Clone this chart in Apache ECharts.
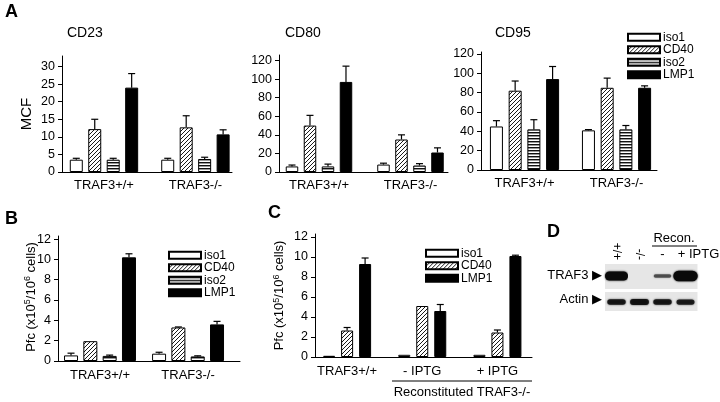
<!DOCTYPE html>
<html><head><meta charset="utf-8">
<script src="https://cdn.jsdelivr.net/npm/echarts@6/dist/echarts.min.js"></script>
<style>html,body{margin:0;padding:0;background:#fff}#c{width:720px;height:402px}</style>
</head><body><div id="c"></div>
<script>
// ---------------- data ----------------
const groupsA = ['TRAF3+/+', 'TRAF3-/-'];
const seriesA = ['iso1', 'CD40', 'iso2', 'LMP1'];
const cd23Mean = [[3.5, 3.5], [12.2, 12.7], [3.5, 3.7], [24.0, 10.7]];
const cd23Err  = [[0.4, 0.4], [2.8, 3.3], [0.4, 0.5], [4.0, 1.3]];
const cd80Mean = [[6, 8], [50, 35], [6, 7], [97, 21]];
const cd80Err  = [[1.5, 1.5], [11, 5], [2.5, 2], [17, 5]];
const cd95Mean = [[45, 41], [82, 85], [42, 42], [94, 85]];
const cd95Err  = [[6, 0.8], [10, 10], [10, 4], [13, 2]];
const ticksCD23 = [0, 5, 10, 15, 20, 25, 30];
const ticksCD80 = [0, 20, 40, 60, 80, 100, 120];
const ticksCD95 = [0, 20, 40, 60, 80, 100, 120];

const groupsB = ['TRAF3+/+', 'TRAF3-/-'];
const seriesB = ['iso1', 'CD40', 'iso2', 'LMP1'];
const bMean = [[0.55, 0.72], [1.95, 3.3], [0.5, 0.45], [10.2, 3.6]];
const bErr  = [[0.22, 0.14], [0, 0.05], [0.08, 0.06], [0.35, 0.3]];
const ticksB = [0, 2, 4, 6, 8, 10, 12];
const pfcLabel = 'Pfc (x10{s|5}/10{s|6} cells)';

const groupsC = ['TRAF3+/+', '- IPTG', '+ IPTG'];
const seriesC = ['iso1', 'CD40', 'LMP1'];
const cMean = [[0.12, 0.22, 0.22], [2.65, 5.1, 2.45], [9.3, 4.6, 10.1]];
const cErr  = [[0, 0, 0], [0.3, 0, 0.25], [0.6, 0.65, 0.08]];
const ticksC = [0, 2, 4, 6, 8, 10, 12];
const cGroupLabel = 'Reconstituted TRAF3-/-';

const blotLanes = ['+/+', '-/-', '-', '+ IPTG'];
const blotRows = ['TRAF3', 'Actin'];
const traf3Band = [1.0, 0, 0.4, 1.15];
const actinBand = [0.8, 0.85, 0.8, 0.75];

// ---------------- styles ----------------
const FONT = '"Liberation Sans", Arial, Helvetica, sans-serif';
const SUP = { s: { fontSize: 9, fontFamily: FONT, color: '#000', padding: [0, 0, 6, 0] } };
function hatchCanvas() {
  const c = document.createElement('canvas'); c.width = 4; c.height = 4;
  const g = c.getContext('2d');
  g.fillStyle = '#fff'; g.fillRect(0, 0, 4, 4);
  g.strokeStyle = '#1a1a1a'; g.lineWidth = 1;
  g.beginPath();
  g.moveTo(0, 4); g.lineTo(4, 0);
  g.moveTo(-1, 1); g.lineTo(1, -1);
  g.moveTo(3, 5); g.lineTo(5, 3);
  g.stroke();
  return c;
}
function stripeCanvas() {
  const c = document.createElement('canvas'); c.width = 4; c.height = 3;
  const g = c.getContext('2d');
  g.fillStyle = '#fff'; g.fillRect(0, 0, 4, 3);
  g.fillStyle = '#111'; g.fillRect(0, 0, 4, 1);
  g.fillStyle = '#999'; g.fillRect(0, 1, 4, 1);
  return c;
}
const FILL = {
  iso1: '#ffffff',
  CD40: { image: hatchCanvas(), repeat: 'repeat' },
  iso2: { image: stripeCanvas(), repeat: 'repeat' },
  LMP1: '#000000'
};

// panel layout
const panels = [
  { grid: { left: 62, top: 56, width: 170, height: 116 }, xMin: -0.459, xMax: 1.40, yMax: 33, ticks: ticksCD23,
    groups: groupsA, names: seriesA, mean: cd23Mean, err: cd23Err, bw: 13, gap: 0.42, labelMargin: 7, name: 'MCF', nameGap: 28 },
  { grid: { left: 279, top: 55, width: 169, height: 117 }, xMin: -0.437, xMax: 1.41, yMax: 126, ticks: ticksCD80,
    groups: groupsA, names: seriesA, mean: cd80Mean, err: cd80Err, bw: 12.5, gap: 0.44, labelMargin: 7 },
  { grid: { left: 481, top: 52, width: 176, height: 118 }, xMin: -0.473, xMax: 1.44, yMax: 122, ticks: ticksCD95,
    groups: groupsA, names: seriesA, mean: cd95Mean, err: cd95Err, bw: 13, gap: 0.44, labelMargin: 7 },
  { grid: { left: 58, top: 236, width: 182, height: 125 }, xMin: -0.477, xMax: 1.59, yMax: 12.3, ticks: ticksB,
    groups: groupsB, names: seriesB, mean: bMean, err: bErr, bw: 14, gap: 0.38, labelMargin: 8 },
  { grid: { left: 315, top: 234, width: 217, height: 123 }, xMin: -0.427, xMax: 2.46, yMax: 12.3, ticks: ticksC,
    groups: groupsC, names: seriesC, mean: cMean, err: cErr, bw: 12, gap: 0.5, labelMargin: 8,
    name: pfcLabel, nameGap: 28 }
];

const grids = [], xAxes = [], yAxes = [], series = [];
panels.forEach((p, i) => {
  grids.push(Object.assign({ outerBoundsMode: 'none', containLabel: false }, p.grid));
  xAxes.push({
    type: 'value', gridIndex: i, min: p.xMin, max: p.xMax,
    splitLine: { show: false },
    axisLine: { show: true, onZero: false, lineStyle: { color: '#000', width: 1 } },
    axisTick: { show: false },
    axisLabel: { customValues: p.groups.map((g, k) => k), formatter: v => p.groups[Math.round(v)],
      color: '#000', fontSize: 13, fontFamily: FONT, margin: p.labelMargin }
  });
  yAxes.push({
    type: 'value', gridIndex: i, min: 0, max: p.yMax,
    splitLine: { show: false },
    axisLine: { show: true, onZero: false, lineStyle: { color: '#000', width: 1 } },
    axisTick: { show: true, inside: false, length: 4, customValues: p.ticks, lineStyle: { color: '#000' } },
    axisLabel: { customValues: p.ticks, color: '#000', fontSize: 12.5, fontFamily: FONT, margin: 7 },
    name: p.name || '', nameLocation: 'middle', nameGap: p.nameGap || 20, nameMoveOverlap: false,
    nameTextStyle: { color: '#000', fontSize: p.name === 'MCF' ? 15 : 13, fontFamily: FONT, rich: SUP }
  });
  p.names.forEach((nm, s) => {
    series.push({
      type: 'bar', name: nm, xAxisIndex: i, yAxisIndex: i,
      barWidth: p.bw, barGap: (p.gap * 100) + '%',
      data: p.mean[s].map((v, g) => [g, v]),
      itemStyle: { color: FILL[nm], borderColor: '#000', borderWidth: 1, borderRadius: 0 },
      emphasis: { disabled: true }, silent: true, z: 2
    });
  });
  const ed = [];
  p.mean.forEach((arr, s) => arr.forEach((v, g) => ed.push([g, s, v, p.err[s][g]])));
  const n = p.names.length, bw = p.bw, gap = p.bw * p.gap;
  series.push({
    type: 'custom', xAxisIndex: i, yAxisIndex: i, data: ed, encode: { x: 0, y: 2 }, z: 3, silent: true,
    renderItem: (params, api) => {
      const g = api.value(0), s = api.value(1), v = api.value(2), e = api.value(3);
      if (!(e > 0)) return { type: 'group', children: [] };
      const total = n * bw + (n - 1) * gap;
      const off = -total / 2 + bw / 2 + s * (bw + gap);
      const p0 = api.coord([g, v]), p1 = api.coord([g, v + e]);
      const x = p0[0] + off;
      return { type: 'group', children: [
        { type: 'line', shape: { x1: x, y1: p0[1], x2: x, y2: p1[1] }, style: { stroke: '#000', lineWidth: 1.2 } },
        { type: 'line', shape: { x1: x - 3.5, y1: p1[1], x2: x + 3.5, y2: p1[1] }, style: { stroke: '#000', lineWidth: 1.2 } }
      ] };
    }
  });
});

// blot panel D
const blotGrid = grids.length;
grids.push({ left: 605, top: 264, width: 92, height: 47, outerBoundsMode: 'none', containLabel: false });
xAxes.push({ type: 'category', gridIndex: blotGrid, data: blotLanes, position: 'top',
  axisLine: { show: false }, axisTick: { show: false }, splitLine: { show: false },
  axisLabel: { interval: 0, rotate: 90, margin: 4, formatter: (v, k) => k < 2 ? v : '', color: '#000', fontSize: 12, fontFamily: FONT } });
xAxes.push({ type: 'category', gridIndex: blotGrid, data: blotLanes, position: 'top', offset: 0,
  axisLine: { show: false }, axisTick: { show: false }, splitLine: { show: false },
  axisLabel: { interval: 0, hideOverlap: false, margin: 3, formatter: (v, k) => k < 2 ? '' : (k === 3 ? '{p|' + v + '}' : v), color: '#000', fontSize: 13, fontFamily: FONT,
    rich: { p: { fontSize: 13, fontFamily: FONT, color: '#000', padding: [0, 0, 0, 26] } } } });
yAxes.push({ type: 'category', gridIndex: blotGrid, data: blotRows, inverse: true,
  axisLine: { show: false }, axisTick: { show: false }, splitLine: { show: false },
  axisLabel: { formatter: v => v + ' \u25B6', color: '#000', fontSize: 13, fontFamily: FONT, margin: 3 } });
const blotData = [];
traf3Band.forEach((k, l) => blotData.push([l, 0, k]));
actinBand.forEach((k, l) => blotData.push([l, 1, k]));
series.push({
  type: 'custom', xAxisIndex: xAxes.length - 2, yAxisIndex: yAxes.length - 1, data: blotData, silent: true,
  encode: { x: 0, y: 1 },
  renderItem: (params, api) => {
    const l = api.value(0), r = api.value(1), k = api.value(2);
    const c = api.coord([l, r]);
    const sz = api.size([1, 1]);
    const cw = sz[0], ch = sz[1];
    const top = c[1] - ch / 2;
    const bg = r === 0
      ? { x: c[0] - cw / 2, y: top, width: cw + 0.5, height: ch + 1.5 }
      : { x: c[0] - cw / 2, y: top + 4.5, width: cw + 0.5, height: ch - 4.5 };
    const kids = [{ type: 'rect', shape: bg, style: { fill: '#e6e6e6' } }];
    if (k > 0) {
      const w = r === 0 ? 14 + 9 * k : 12 + 8 * k;
      const h = r === 0 ? 9 * k : 7 * k;
      const cy = r === 0 ? top + 12 : top + 14.5;
      const a = Math.min(1, 0.3 + 0.7 * k);
      kids.push({ type: 'rect', shape: { x: c[0] - w / 2, y: cy - h / 2, width: w, height: h, r: h / 2 },
        style: { fill: 'rgba(10,10,10,' + a + ')', shadowBlur: 2, shadowColor: 'rgba(10,10,10,' + a + ')' } });
    }
    return { type: 'group', children: kids };
  }
});

const legendBase = { orient: 'vertical', icon: 'rect', itemWidth: 32, itemHeight: 7, itemGap: 0, selectedMode: false,
  textStyle: { color: '#000', fontSize: 12, fontFamily: FONT, lineHeight: 12.5, padding: [0, 0, 0, -2] } };
const legends = [
  Object.assign({}, legendBase, { data: seriesA, left: 622, top: 26 }),
  Object.assign({}, legendBase, { data: seriesB, left: 163, top: 244 }),
  Object.assign({}, legendBase, { data: seriesC, left: 420, top: 242 })
];

function txt(x, y, s, font, align) {
  return { type: 'text', x: x, y: y, silent: true,
    style: { text: s, font: font, fill: '#000', align: align || 'left', verticalAlign: 'middle' } };
}
const graphics = [
  txt(5, 12, 'A', 'bold 18px ' + FONT),
  txt(5, 219, 'B', 'bold 18px ' + FONT),
  txt(268, 213, 'C', 'bold 18px ' + FONT),
  txt(547, 232, 'D', 'bold 18px ' + FONT),
  txt(67, 33, 'CD23', '14px ' + FONT),
  txt(285, 33, 'CD80', '14px ' + FONT),
  txt(495, 33, 'CD95', '14px ' + FONT),
  { type: 'text', x: 31, y: 297, rotation: Math.PI / 2, silent: true,
    style: { text: pfcLabel, font: '13px ' + FONT, fill: '#000', align: 'center', verticalAlign: 'middle', rich: SUP } },
  { type: 'line', silent: true, shape: { x1: 392, y1: 381, x2: 532, y2: 381 }, style: { stroke: '#000', lineWidth: 1 } },
  txt(462, 392, cGroupLabel, '13px ' + FONT, 'center'),
  txt(674, 238, 'Recon.', '13px ' + FONT, 'center'),
  { type: 'line', silent: true, shape: { x1: 652, y1: 246, x2: 697, y2: 246 }, style: { stroke: '#000', lineWidth: 1 } }
];

const chart = echarts.init(document.getElementById('c'), null, { renderer: 'canvas' });
chart.setOption({
  animation: false,
  backgroundColor: '#fff',
  textStyle: { fontFamily: FONT },
  grid: grids, xAxis: xAxes, yAxis: yAxes, series: series,
  legend: legends, graphic: graphics
});
</script></body></html>
